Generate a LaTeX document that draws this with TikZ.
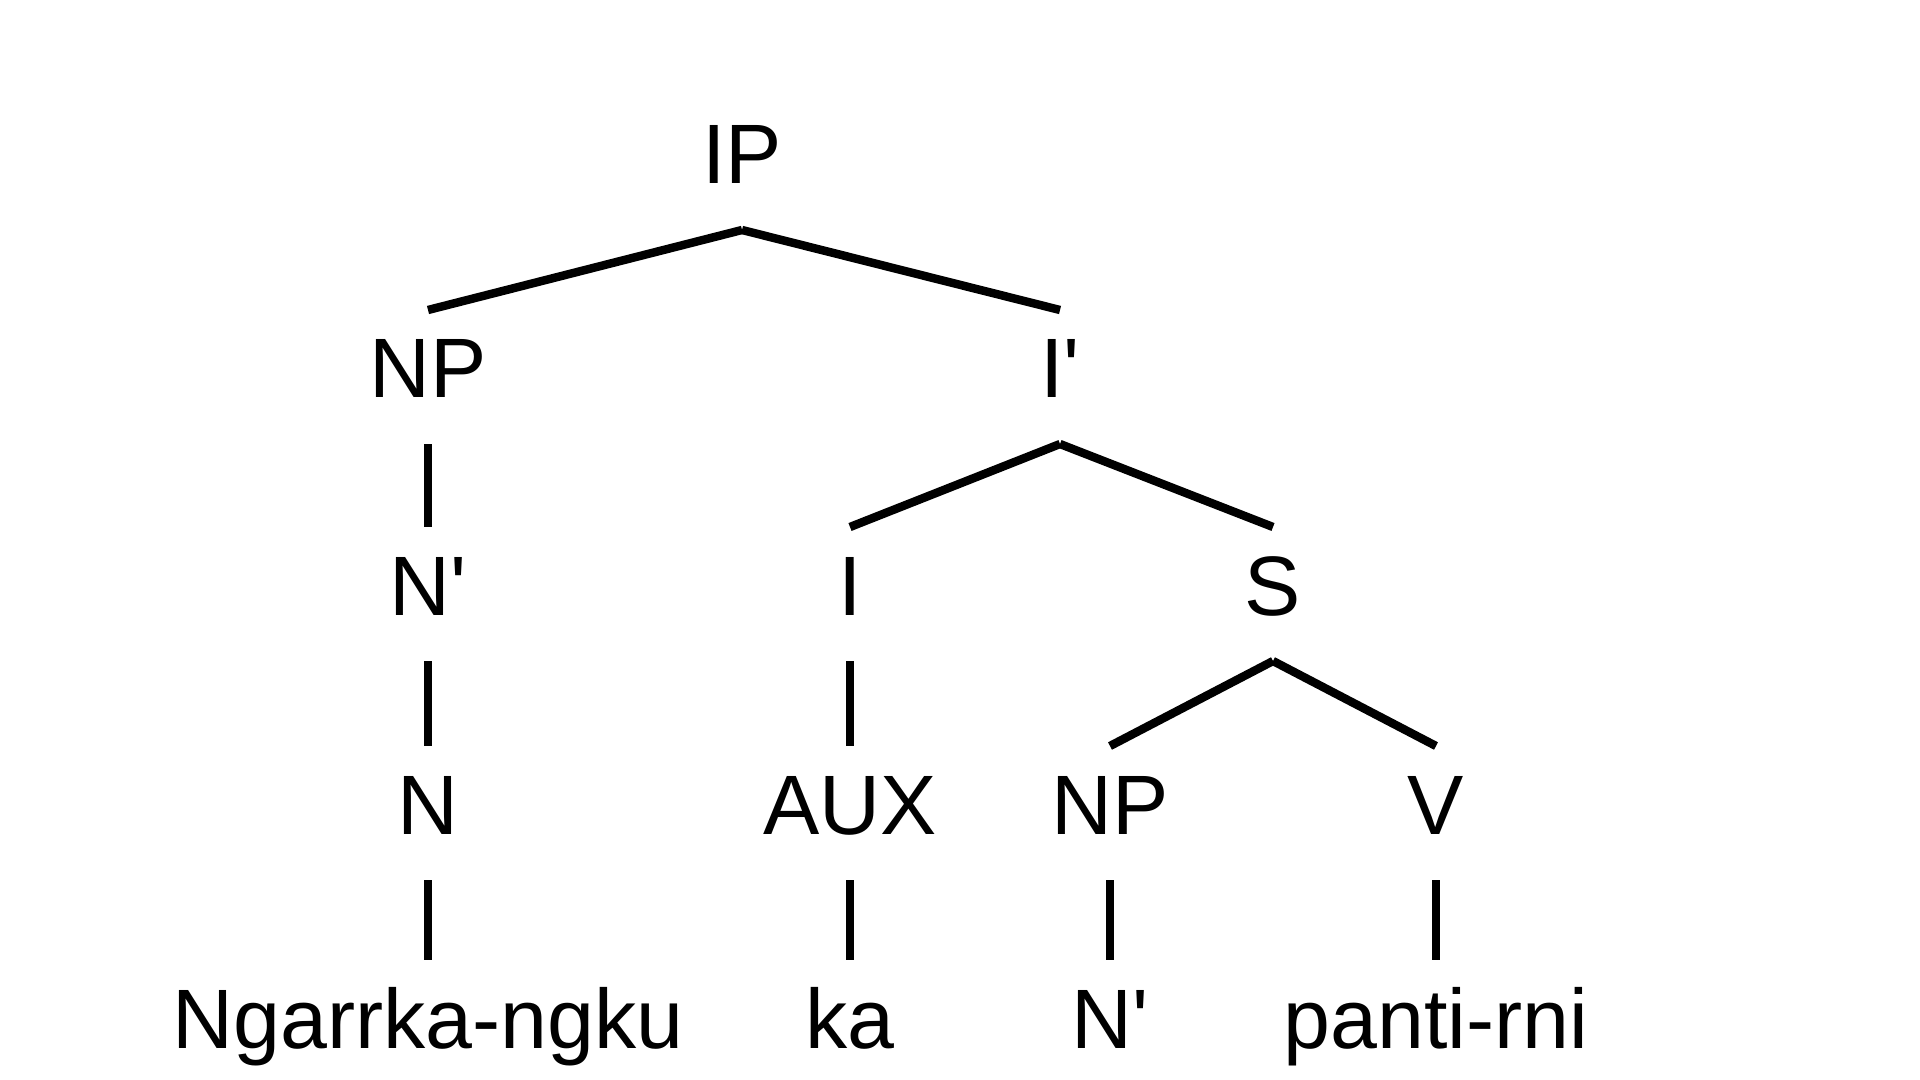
\documentclass[tikz,border=0pt]{standalone}
\usepackage{fontspec}
\newfontfamily\treefont{Liberation Sans}
\tikzset{
	cat/.style={inner sep=0, outer sep=0, anchor=base, text height=0.88cm,
		text depth=0.46cm, font=\treefont\fontsize{24}{28}\selectfont}
}
\begin{document}
\begin{tikzpicture}[-, line width=2.4pt]
	\useasboundingbox (0,0) rectangle (19.2,-10.8);
	\node[cat] (ip) at (7.42,-1.84) {IP};
	\node[cat] (np1) at (4.28,-3.98) {NP};
	\node[cat] (ibar) at (10.60,-3.98) {I'};
	\node[cat] (nbar1) at (4.28,-6.15) {N'};
	\node[cat] (i) at (8.50,-6.15) {I};
	\node[cat] (s) at (12.73,-6.15) {S};
	\node[cat] (n) at (4.28,-8.34) {N};
	\node[cat] (aux) at (8.50,-8.34) {AUX};
	\node[cat] (np2) at (11.10,-8.34) {NP};
	\node[cat] (v) at (14.36,-8.34) {V};
	\node[cat] (w1) at (4.28,-10.48) {Ngarrka-ngku};
	\node[cat] (w2) at (8.50,-10.48) {ka};
	\node[cat] (nbar2) at (11.10,-10.48) {N'};
	\node[cat] (w3) at (14.36,-10.48) {panti-rni};
	\path (ip.south) edge (np1.north);
	\path (ip.south) edge (ibar.north);
	\path (np1.south) edge (nbar1.north);
	\path (ibar.south) edge (i.north);
	\path (ibar.south) edge (s.north);
	\path (nbar1.south) edge (n.north);
	\path (i.south) edge (aux.north);
	\path (s.south) edge (np2.north);
	\path (s.south) edge (v.north);
	\path (n.south) edge (w1.north);
	\path (aux.south) edge (w2.north);
	\path (np2.south) edge (nbar2.north);
	\path (v.south) edge (w3.north);
\end{tikzpicture}
\end{document}
